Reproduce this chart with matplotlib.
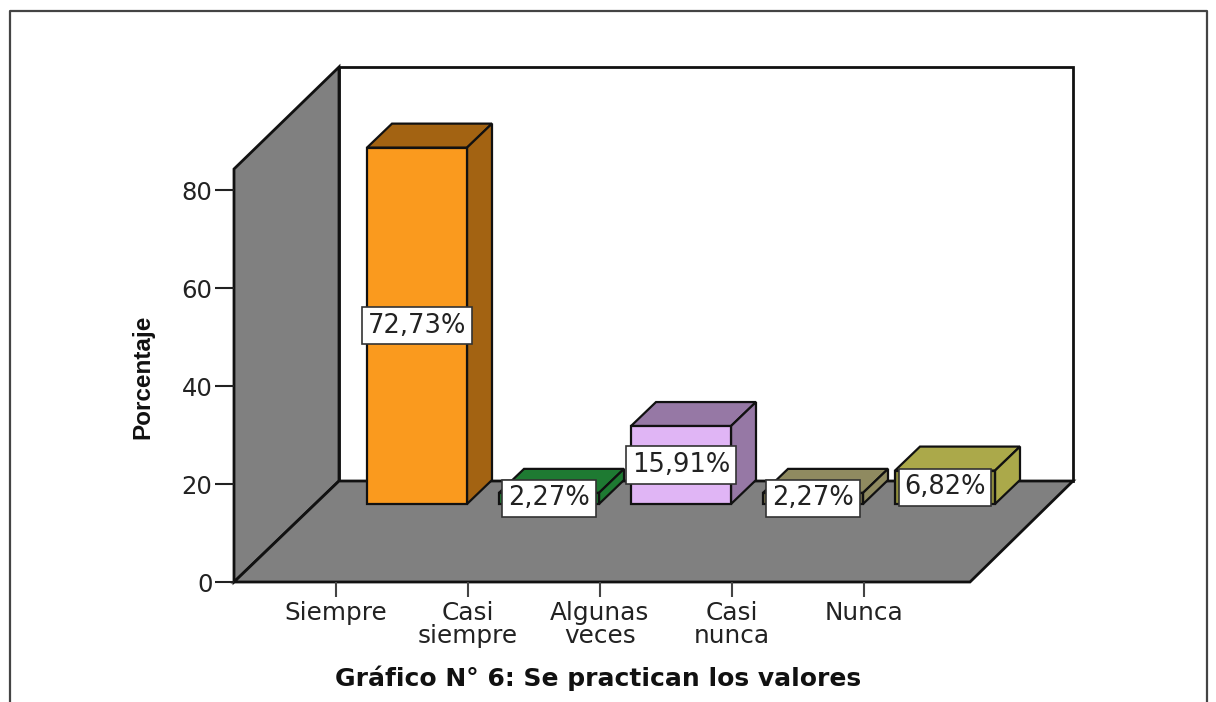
#!/usr/bin/env python3
"""Se practican los valores: SPSS style pseudo-3D bar chart, saved as out.png."""

import matplotlib

matplotlib.use("Agg")
import matplotlib.pyplot as plt
from matplotlib.lines import Line2D
from matplotlib.patches import Polygon
from matplotlib.transforms import Affine2D

CATEGORIES = ["Siempre", "Casi\nsiempre", "Algunas\nveces", "Casi\nnunca", "Nunca"]
PERCENT = [72.73, 2.27, 15.91, 2.27, 6.82]
LABELS = ["72,73%", "2,27%", "15,91%", "2,27%", "6,82%"]
Y_TICKS = [0, 20, 40, 60, 80]

FRONT = ["#fa9a1e", "#1e7a32", "#e0b5f5", "#6f6a48", "#8f8d3c"]
SHADE = ["#a36312", "#1e7a32", "#9678a5", "#8f8a60", "#aba94a"]

W, H = 1216, 702
EDGE = "#111111"
WALL = "#808080"

# pixels per data unit, and how far the bars sit back on the floor
X_SCALE = 132.0
Y_SCALE = 4.9
BAR_WIDTH = 100 / X_SCALE
SHIFT_X = 81 / X_SCALE
SHIFT_Y = 78 / Y_SCALE
DEPTH_X = 25 / X_SCALE
DEPTH_Y = 24 / Y_SCALE

fig = plt.figure(figsize=(W / 100, H / 100), dpi=100)
ax = fig.add_axes([234 / W, (H - 582) / H, (970 - 234) / W, (582 - 169) / H])
ax.set_xlim(-102 / X_SCALE, (970 - 336) / X_SCALE)
ax.set_ylim(0, (582 - 169) / Y_SCALE)
ax.patch.set_visible(False)
for side in ["top", "right", "left", "bottom"]:
    ax.spines[side].set_visible(False)

# walls and floor, given in image pixels (y going down)
px = Affine2D().scale(1, -1).translate(0, H)
wall_style = dict(transform=px, closed=True, edgecolor=EDGE, linewidth=2.0, zorder=1)
ax.add_patch(Polygon([(339, 67), (1073, 67), (1073, 481), (339, 481)],
                     facecolor="white", clip_on=False, **wall_style))
ax.add_patch(Polygon([(234, 582), (234, 169), (339, 67), (339, 481)],
                     facecolor=WALL, clip_on=False, **wall_style))
ax.add_patch(Polygon([(234, 582), (970, 582), (1073, 481), (339, 481)],
                     facecolor=WALL, clip_on=False, **wall_style))

# bars, left to right so each one overlaps the one behind it
xs = [i + SHIFT_X for i in range(len(PERCENT))]
for i, (x, val) in enumerate(zip(xs, PERCENT)):
    x0 = x - BAR_WIDTH / 2
    x1 = x + BAR_WIDTH / 2
    y0 = SHIFT_Y
    y1 = SHIFT_Y + val
    z = 3 + i
    ax.add_patch(Polygon(
        [(x0, y1), (x1, y1), (x1 + DEPTH_X, y1 + DEPTH_Y), (x0 + DEPTH_X, y1 + DEPTH_Y)],
        facecolor=SHADE[i], edgecolor=EDGE, linewidth=1.6, clip_on=False, zorder=z,
    ))
    ax.add_patch(Polygon(
        [(x1, y0), (x1 + DEPTH_X, y0 + DEPTH_Y), (x1 + DEPTH_X, y1 + DEPTH_Y), (x1, y1)],
        facecolor=SHADE[i], edgecolor=EDGE, linewidth=1.6, clip_on=False, zorder=z,
    ))
    ax.bar(x, val, width=BAR_WIDTH, bottom=y0, color=FRONT[i], edgecolor=EDGE,
           linewidth=1.6, clip_on=False, zorder=z)

for x, val, lab in zip(xs, PERCENT, LABELS):
    ax.text(x, SHIFT_Y + val / 2, lab, ha="center", va="center", fontsize=18.5,
            color="#222222", zorder=20, clip_on=False,
            bbox=dict(boxstyle="square,pad=0.22", facecolor="white",
                      edgecolor="#333333", linewidth=1.2))

ax.set_yticks(Y_TICKS)
ax.set_xticks(range(len(CATEGORIES)))
ax.set_xticklabels(CATEGORIES, fontsize=17.8, linespacing=0.98, color="#222222")
ax.tick_params(axis="y", length=13.5, width=1.5, color="#222222", labelsize=17.5,
               labelcolor="#222222", pad=2)
ax.tick_params(axis="x", length=10.5, width=1.5, color="#444444", pad=3)

fig.text(143 / W, (H - 377) / H, "Porcentaje", rotation=90, ha="center", va="center",
         family="Liberation Sans", fontweight="bold", fontsize=17.5, color="#111111")
fig.text(598 / W, (H - 678) / H, "Gráfico N° 6: Se practican los valores",
         ha="center", va="center", fontweight="bold", fontsize=18, color="#111111")

# outer frame, the crop cuts its bottom edge off
fig.add_artist(Line2D([10 / W, 10 / W, 1207 / W, 1207 / W],
                      [0, (H - 11) / H, (H - 11) / H, 0],
                      color="#444444", linewidth=1.6))

fig.savefig("out.png", dpi=100)
